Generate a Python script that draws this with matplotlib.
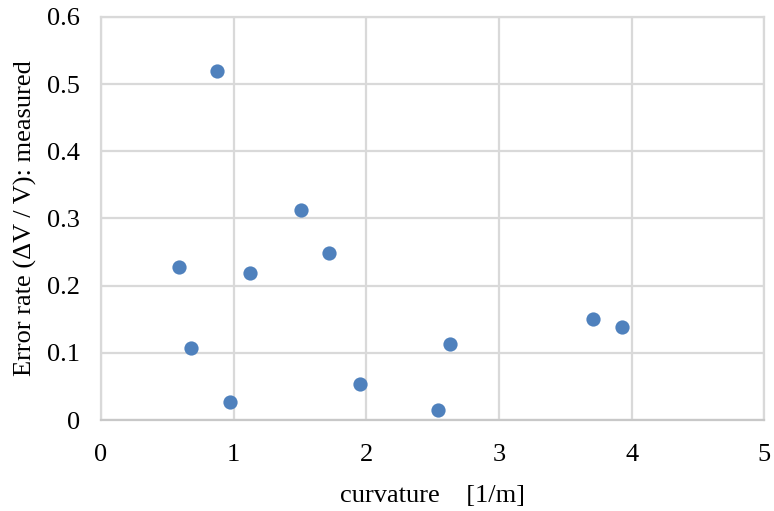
import matplotlib
matplotlib.use("Agg")
import matplotlib.pyplot as plt
from matplotlib.ticker import FuncFormatter

# curvature [1/m] vs measured error rate
curvature = [0.875, 0.59, 0.68, 0.97, 1.12, 1.51, 1.72, 1.95, 2.54, 2.63, 3.71, 3.93]
error_rate = [0.519, 0.228, 0.107, 0.027, 0.219, 0.312, 0.248, 0.054, 0.015, 0.113, 0.151, 0.138]

x_ticks = [0, 1, 2, 3, 4, 5]
y_ticks = [0, 0.1, 0.2, 0.3, 0.4, 0.5, 0.6]

GRID = "#d9d9d9"
DOT = "#4f81bd"
FS = 19

plt.rcParams.update({
    "font.family": ["Liberation Serif", "DejaVu Serif"],
    "font.size": FS,
})

fig = plt.figure(figsize=(7.74, 5.11), dpi=100)
ax = fig.add_axes([0.1305, 0.178, 0.857, 0.789])

ax.scatter(curvature, error_rate, s=105, color=DOT, zorder=3, linewidths=0)

ax.set_xlim(0, 5)
ax.set_ylim(0, 0.6)
ax.set_xticks(x_ticks)
ax.set_yticks(y_ticks)
ax.yaxis.set_major_formatter(FuncFormatter(lambda v, _p: "0" if v == 0 else f"{v:.1f}"))

ax.grid(True, color=GRID, linewidth=1.6)
ax.set_axisbelow(True)
for side in ["top", "right", "left", "bottom"]:
    ax.spines[side].set_color(GRID)
    ax.spines[side].set_linewidth(1.6)
ax.spines["bottom"].set_color("#c8c8c8")
ax.tick_params(axis="y", length=0, pad=15, labelsize=FS, colors="black")
ax.tick_params(axis="x", length=0, pad=17, labelsize=FS, colors="black")

ax.set_xlabel("curvature    [1/m]", fontsize=FS, labelpad=14)
ax.set_ylabel("Error rate (\u0394V / V): measured", fontsize=FS, labelpad=7)

fig.savefig("out.png", dpi=100)
